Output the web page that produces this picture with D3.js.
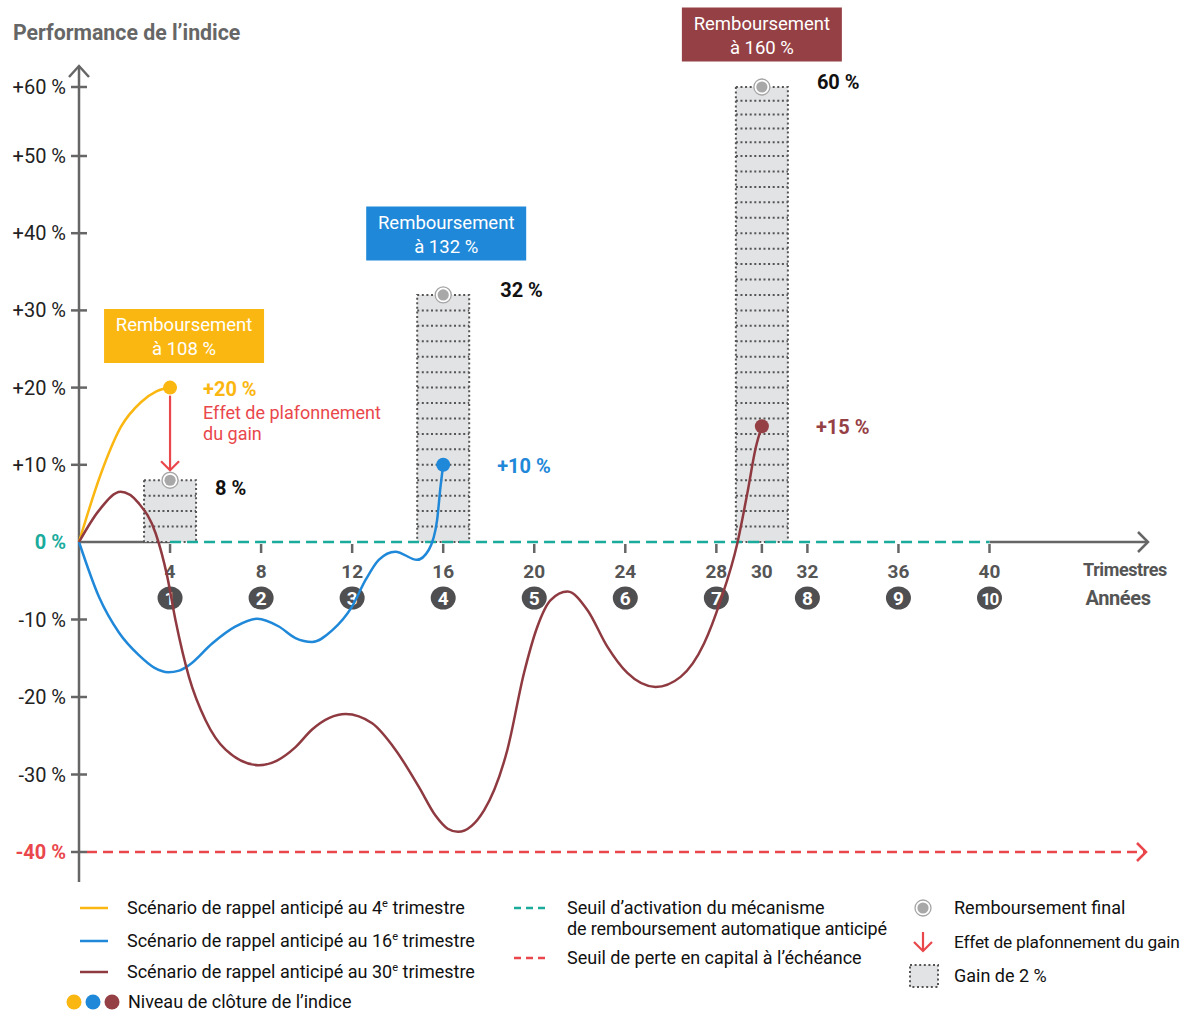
<!DOCTYPE html>
<html>
<head>
<meta charset="utf-8">
<script src="https://cdn.jsdelivr.net/npm/d3@7"></script>
<style>
  html, body { margin: 0; padding: 0; background: #fff; }
  svg { display: block; font-family: Roboto, "Liberation Sans", sans-serif; }
</style>
</head>
<body>
<svg id="chart" width="1192" height="1012"></svg>
<script>
// Index path of each early-redemption scenario: [quarter, performance %]
const scenario4 = [[0,0],[0.97,8.9],[1.84,14.9],[2.72,18.1],[3.4,19.5],[4,20]];
const scenario16 = [[0,0],[0.88,-7.1],[1.76,-11.7],[2.63,-14.6],[3.3,-16.2],[3.92,-16.8],[4.4,-16.6],
  [4.83,-15.9],[5.85,-13.1],[6.88,-10.9],[7.83,-9.9],[8.78,-10.9],[9.51,-12.4],[10.24,-12.9],
  [11.12,-11.4],[12.0,-8.3],[12.59,-4.9],[13.17,-2.3],[13.9,-1.25],[14.85,-2.3],[15.37,-1.0],
  [15.73,2.8],[15.88,7.1],[16,10]];
const scenario30 = [[0,0],[0.88,4.1],[1.83,6.5],[2.63,5.0],[3.37,1.1],[3.88,-4.5],[4.24,-10.1],
  [4.83,-17.4],[5.56,-23.0],[6.44,-26.8],[7.9,-28.8],[8.7,-28.2],[9.5,-26.5],[10.24,-24.2],
  [11.0,-22.7],[11.71,-22.2],[12.88,-23.4],[13.9,-26.8],[14.93,-31.6],[15.66,-35.3],[16.2,-37.0],
  [16.65,-37.4],[17.8,-34.6],[18.82,-26.8],[19.55,-16.9],[20.14,-10.9],[20.72,-7.5],[21.46,-6.4],
  [22.34,-8.8],[23.21,-13.5],[24.09,-16.9],[25.33,-18.7],[26.43,-17.4],[27.46,-13.1],[28.19,-7.5],
  [28.92,-0.2],[29.36,6.3],[29.73,12.2],[30,15]];

// Redemption events
const redemptionQuarters = [4, 16, 30];
const closingLevels = [20, 10, 15];          // index close at redemption (%)
const finalGains = [8, 32, 60];              // capped gain paid (%)
const redemptionRates = ["à 108 %", "à 132 %", "à 160 %"];

// Axes
const quarterTicks = [4, 8, 12, 16, 20, 24, 28, 30, 32, 36, 40];
const yearNumbers = [1, 2, 3, 4, 5, 6, 7, 8, 9, 10];
const yTicks = [60, 50, 40, 30, 20, 10, 0, -10, -20, -30, -40];
const activationThreshold = 0;
const lossThreshold = -40;
const gainStep = 2;

const C = {
  yellow: "#fbb711", blue: "#1f88d8", brown: "#8e3a40", brownBox: "#954045",
  red: "#e9474c", teal: "#1aab9c", axis: "#666", grey: "#555", bar: "#e2e3e5"
};

const svg = d3.select("#chart");
const x = d3.scaleLinear().domain([0, 40]).range([79, 989.5]);
const y = d3.scaleLinear().domain([-40, 0, 50, 60]).range([852, 542, 156, 87]);
const x0 = x(0), y0 = y(0);

// Title
svg.append("text").attr("x", 13).attr("y", 40)
  .attr("font-size", 21.3).attr("font-weight", 700).attr("fill", "#666")
  .text("Performance de l\u2019indice");

// Y axis with arrow
const ax = svg.append("g").attr("stroke", C.axis).attr("stroke-width", 2.5).attr("fill", "none");
ax.append("line").attr("x1", x0).attr("x2", x0).attr("y1", 66).attr("y2", 882);
ax.append("path").attr("d", `M${x0-10},77L${x0},66L${x0+10},77`);
ax.selectAll("line.yt").data(yTicks.filter(v => v !== 0)).join("line").attr("class", "yt")
  .attr("x1", x0 - 8).attr("x2", x0 + 8).attr("y1", d => y(d)).attr("y2", d => y(d));

svg.append("g").attr("font-size", 20).attr("text-anchor", "end")
  .selectAll("text").data(yTicks).join("text")
  .attr("x", 66).attr("y", d => y(d) + 7)
  .attr("fill", d => d === activationThreshold ? C.teal : d === lossThreshold ? C.red : "#222")
  .attr("font-weight", d => (d === activationThreshold || d === lossThreshold) ? 700 : 400)
  .text(d => (d > 0 ? "+" : "") + d + " %");

// X axis (grey where no threshold line), arrow, ticks
ax.append("line").attr("x1", x0).attr("x2", x(4)).attr("y1", y0).attr("y2", y0);
ax.append("line").attr("x1", x(40)).attr("x2", 1148).attr("y1", y0).attr("y2", y0);
ax.append("path").attr("d", `M1138,${y0-10}L1148,${y0}L1138,${y0+10}`);
ax.selectAll("line.xt").data(quarterTicks).join("line").attr("class", "xt")
  .attr("x1", d => x(d)).attr("x2", d => x(d)).attr("y1", y0 + 2).attr("y2", y0 + 11);

svg.append("g").attr("font-size", 19).attr("font-weight", 700).attr("fill", C.grey)
  .attr("text-anchor", "middle")
  .selectAll("text").data(quarterTicks).join("text")
  .attr("x", d => x(d)).attr("y", 578).text(d => d);

const years = svg.append("g").selectAll("g").data(yearNumbers).join("g")
  .attr("transform", d => `translate(${x(d * 4)},598)`);
years.append("ellipse").attr("rx", 12.5).attr("ry", 11.5).attr("fill", "#4f4f51");
years.append("text").attr("y", 7).attr("text-anchor", "middle").attr("fill", "#fff")
  .attr("font-size", d => d >= 10 ? 17 : 19).attr("font-weight", 700)
  .attr("letter-spacing", d => d >= 10 ? -1.5 : 0).text(d => d);

svg.append("text").attr("x", 1125).attr("y", 576).attr("text-anchor", "middle")
  .attr("font-size", 18).attr("font-weight", 700).attr("fill", C.grey).attr("letter-spacing", -0.4)
  .text("Trimestres");
svg.append("text").attr("x", 1118).attr("y", 605).attr("text-anchor", "middle")
  .attr("font-size", 20).attr("font-weight", 700).attr("fill", C.grey).attr("letter-spacing", -0.4)
  .text("Années");

// Gain bars, one dotted row per 2 % of gain
const barHalf = 26;
const bars = svg.append("g").selectAll("g").data(redemptionQuarters).join("g");
bars.append("rect")
  .attr("x", d => x(d) - barHalf).attr("width", barHalf * 2)
  .attr("y", (d, i) => y(finalGains[i])).attr("height", (d, i) => y0 - y(finalGains[i]))
  .attr("fill", C.bar).attr("stroke", C.grey).attr("stroke-width", 2)
  .attr("stroke-dasharray", "2 2.6");
bars.each(function (q, i) {
  const rows = d3.range(gainStep, finalGains[i], gainStep);
  d3.select(this).selectAll("line").data(rows).join("line")
    .attr("x1", x(q) - barHalf).attr("x2", x(q) + barHalf)
    .attr("y1", v => y(v)).attr("y2", v => y(v))
    .attr("stroke", C.grey).attr("stroke-width", 2).attr("stroke-dasharray", "2 2.6");
});

// Threshold lines
svg.append("line").attr("x1", x(4)).attr("x2", x(40)).attr("y1", y0).attr("y2", y0)
  .attr("stroke", C.teal).attr("stroke-width", 2.5).attr("stroke-dasharray", "11 6");
svg.append("line").attr("x1", x0 + 8).attr("x2", 1146).attr("y1", y(lossThreshold)).attr("y2", y(lossThreshold))
  .attr("stroke", C.red).attr("stroke-width", 2.5).attr("stroke-dasharray", "10 6");
svg.append("path").attr("d", `M1137,${y(lossThreshold)-9}L1146,${y(lossThreshold)}L1137,${y(lossThreshold)+9}`)
  .attr("fill", "none").attr("stroke", C.red).attr("stroke-width", 2.5);

// Scenario paths
const line = d3.line().x(d => x(d[0])).y(d => y(d[1])).curve(d3.curveMonotoneX);
const scenarios = [scenario4, scenario16, scenario30];
const scenarioColors = [C.yellow, C.blue, C.brown];
svg.append("g").attr("fill", "none").attr("stroke-width", 2.5)
  .selectAll("path").data(scenarios).join("path")
  .attr("d", line).attr("stroke", (d, i) => scenarioColors[i]);

// Capping arrow
const qa = redemptionQuarters[0];
svg.append("g").attr("stroke", C.red).attr("stroke-width", 2.2).attr("fill", "none")
  .call(g => {
    g.append("line").attr("x1", x(qa)).attr("x2", x(qa))
      .attr("y1", y(closingLevels[0]) + 8).attr("y2", y(finalGains[0]) - 10);
    g.append("path").attr("d", `M${x(qa)-9},${y(finalGains[0])-19}L${x(qa)},${y(finalGains[0])-10}L${x(qa)+9},${y(finalGains[0])-19}`);
  });

// Closing levels
svg.append("g").selectAll("circle").data(redemptionQuarters).join("circle")
  .attr("cx", d => x(d)).attr("cy", (d, i) => y(closingLevels[i])).attr("r", 7)
  .attr("fill", (d, i) => [C.yellow, C.blue, C.brownBox][i]);

// Final redemption markers
const finals = svg.append("g").selectAll("g").data(redemptionQuarters).join("g")
  .attr("transform", (d, i) => `translate(${x(d)},${y(finalGains[i])})`);
finals.append("circle").attr("r", 8).attr("fill", "#fff").attr("stroke", "#a5a5a5").attr("stroke-width", 1.3);
finals.append("circle").attr("r", 5.6).attr("fill", "#a8a8a8");

// Value labels
const gainDx = [45, 57, 55], gainDy = [15, 2, 2];
svg.append("g").attr("font-size", 20).attr("font-weight", 700).attr("fill", "#111")
  .selectAll("text").data(redemptionQuarters).join("text")
  .attr("x", (d, i) => x(d) + gainDx[i]).attr("y", (d, i) => y(finalGains[i]) + gainDy[i])
  .text((d, i) => finalGains[i] + " %");

const closeDx = [33, 54, 54];
svg.append("g").attr("font-size", 20).attr("font-weight", 700)
  .selectAll("text").data(redemptionQuarters).join("text")
  .attr("x", (d, i) => x(d) + closeDx[i]).attr("y", (d, i) => y(closingLevels[i]) + 8)
  .attr("fill", (d, i) => [C.yellow, C.blue, C.brownBox][i])
  .text((d, i) => "+" + closingLevels[i] + " %");

svg.append("g").attr("font-size", 18).attr("fill", C.red)
  .call(g => {
    g.append("text").attr("x", x(qa) + 33).attr("y", y(closingLevels[0]) + 31).text("Effet de plafonnement");
    g.append("text").attr("x", x(qa) + 33).attr("y", y(closingLevels[0]) + 52).text("du gain");
  });

// Redemption boxes
const boxCenters = [[x(4) + 14, 336], [x(16) + 3, 233.5], [x(30), 34.5]];
const boxColors = [C.yellow, C.blue, C.brownBox];
const boxes = svg.append("g").selectAll("g").data(redemptionRates).join("g")
  .attr("transform", (d, i) => `translate(${boxCenters[i][0]},${boxCenters[i][1]})`);
boxes.append("rect").attr("x", -80).attr("y", -27).attr("width", 160).attr("height", 54)
  .attr("fill", (d, i) => boxColors[i]);
boxes.append("text").attr("y", -5).attr("text-anchor", "middle").attr("fill", "#fff")
  .attr("font-size", 18.5).text("Remboursement");
boxes.append("text").attr("y", 19).attr("text-anchor", "middle").attr("fill", "#fff")
  .attr("font-size", 18.5).text(d => d);

// Legend
const lg = svg.append("g").attr("font-size", 18).attr("fill", "#111");
const scenLabels = ["4", "16", "30"];
const scenY = [908, 941, 972];
scenLabels.forEach((s, i) => {
  lg.append("line").attr("x1", 80).attr("x2", 108).attr("y1", scenY[i]).attr("y2", scenY[i])
    .attr("stroke", scenarioColors[i]).attr("stroke-width", 2.5);
  const t = lg.append("text").attr("x", 127).attr("y", scenY[i] + 6);
  t.append("tspan").text("Scénario de rappel anticipé au " + s);
  t.append("tspan").attr("font-size", 11).attr("dy", -7).text("e");
  t.append("tspan").attr("dy", 7).text(" trimestre");
});
[C.yellow, C.blue, C.brownBox].forEach((c, i) => {
  lg.append("circle").attr("cx", 74 + i * 19).attr("cy", 1002).attr("r", 7.5).attr("fill", c);
});
lg.append("text").attr("x", 128).attr("y", 1008).text("Niveau de clôture de l\u2019indice");

lg.append("line").attr("x1", 514).attr("x2", 545).attr("y1", 908).attr("y2", 908)
  .attr("stroke", C.teal).attr("stroke-width", 2.5).attr("stroke-dasharray", "7 5");
lg.append("text").attr("x", 567).attr("y", 914).text("Seuil d\u2019activation du mécanisme");
lg.append("text").attr("x", 567).attr("y", 935).attr("letter-spacing", -0.15)
  .text("de remboursement automatique anticipé");
lg.append("line").attr("x1", 514).attr("x2", 545).attr("y1", 958).attr("y2", 958)
  .attr("stroke", C.red).attr("stroke-width", 2.5).attr("stroke-dasharray", "7 5");
lg.append("text").attr("x", 567).attr("y", 964).text("Seuil de perte en capital à l\u2019échéance");

lg.append("circle").attr("cx", 923).attr("cy", 908).attr("r", 8).attr("fill", "#fff")
  .attr("stroke", "#a5a5a5").attr("stroke-width", 1.3);
lg.append("circle").attr("cx", 923).attr("cy", 908).attr("r", 5.6).attr("fill", "#a8a8a8");
lg.append("text").attr("x", 954).attr("y", 914).text("Remboursement final");

lg.append("line").attr("x1", 923).attr("x2", 923).attr("y1", 932).attr("y2", 951)
  .attr("stroke", C.red).attr("stroke-width", 2.2);
lg.append("path").attr("d", "M914,942L923,951L932,942").attr("fill", "none")
  .attr("stroke", C.red).attr("stroke-width", 2.2);
lg.append("text").attr("x", 954).attr("y", 948).attr("font-size", 17.3).attr("letter-spacing", -0.2)
  .text("Effet de plafonnement du gain");

lg.append("rect").attr("x", 910).attr("y", 965).attr("width", 28).attr("height", 22)
  .attr("fill", C.bar).attr("stroke", C.grey).attr("stroke-width", 2).attr("stroke-dasharray", "2 2.6");
lg.append("text").attr("x", 954).attr("y", 982).text("Gain de " + gainStep + " %");
</script>
</body>
</html>
